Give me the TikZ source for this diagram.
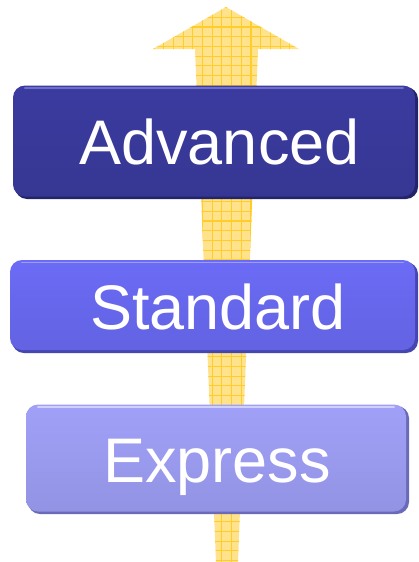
\documentclass[tikz,border=0pt]{standalone}
\usepackage{fontspec}
\setmainfont{Liberation Sans}
\definecolor{arrowfill}{HTML}{FFE38C}
\definecolor{arrowline}{HTML}{FFCC2A}
\definecolor{advC}{HTML}{3B3BA0}
\definecolor{advD}{HTML}{24246A}
\definecolor{advL}{HTML}{6E6EC8}
\definecolor{stdC}{HTML}{6B6BF6}
\definecolor{stdD}{HTML}{4646B0}
\definecolor{stdL}{HTML}{9C9CFA}
\definecolor{expC}{HTML}{A0A0F8}
\definecolor{expD}{HTML}{6A6AB8}
\definecolor{expL}{HTML}{D0D0FC}
\tikzset{
  tier/.style={rounded corners=12pt, inner sep=0pt},
  tiershadow/.style={rounded corners=12pt},
  tierlabel/.style={text=white, font=\fontsize{63}{70}\selectfont, inner sep=0pt, anchor=base},
  gridline/.style={arrowline, line width=1.1pt},
  highlight/.style={line width=1.4pt, line cap=round}
}
\begin{document}
\begin{tikzpicture}[x=1pt,y=-1pt]
\useasboundingbox (0,0) rectangle (418,562);
% arrow
\fill[arrowfill] (226,7) -- (299,49) -- (258,49) -- (238,562) -- (216,562) -- (195,49) -- (153,49) -- cycle;
\begin{scope}
  \clip (226,7) -- (299,49) -- (258,49) -- (238,562) -- (216,562) -- (195,49) -- (153,49) -- cycle;
  \foreach \x in {144.3,154,...,310} \draw[gridline] (\x,0) -- (\x,562);
  \foreach \y in {7.6,17.3,...,565} \draw[gridline] (140,\y) -- (310,\y);
\end{scope}
% Advanced
\fill[tiershadow, advD] (15,87) rectangle (418,199);
\node[tier, minimum width=402pt, minimum height=111pt, top color=advC, bottom color=advC!92!black] (adv) at (214,141) {};
\draw[highlight, advL] ([xshift=12pt,yshift=-2.5pt]adv.north west) -- ([xshift=-12pt,yshift=-2.5pt]adv.north east);
\node[tierlabel] (advt) at (219.5,164) {Advanced};
% Standard
\fill[tiershadow, stdD] (12,262) rectangle (418,353);
\node[tier, minimum width=405pt, minimum height=90pt, top color=stdC, bottom color=stdC!92!black] (std) at (212.5,305) {};
\draw[highlight, stdL] ([xshift=12pt,yshift=-2.5pt]std.north west) -- ([xshift=-12pt,yshift=-2.5pt]std.north east);
\node[tierlabel] (stdt) at (218,329) {Standard};
% Express
\fill[tiershadow, expD] (28,406) rectangle (409,514);
\node[tier, minimum width=380pt, minimum height=107pt, top color=expC, bottom color=expC!92!black] (exp) at (216,458) {};
\draw[highlight, expL] ([xshift=12pt,yshift=-2.5pt]exp.north west) -- ([xshift=-12pt,yshift=-2.5pt]exp.north east);
\node[tierlabel] (expt) at (217,482) {Express};
\end{tikzpicture}
\end{document}
